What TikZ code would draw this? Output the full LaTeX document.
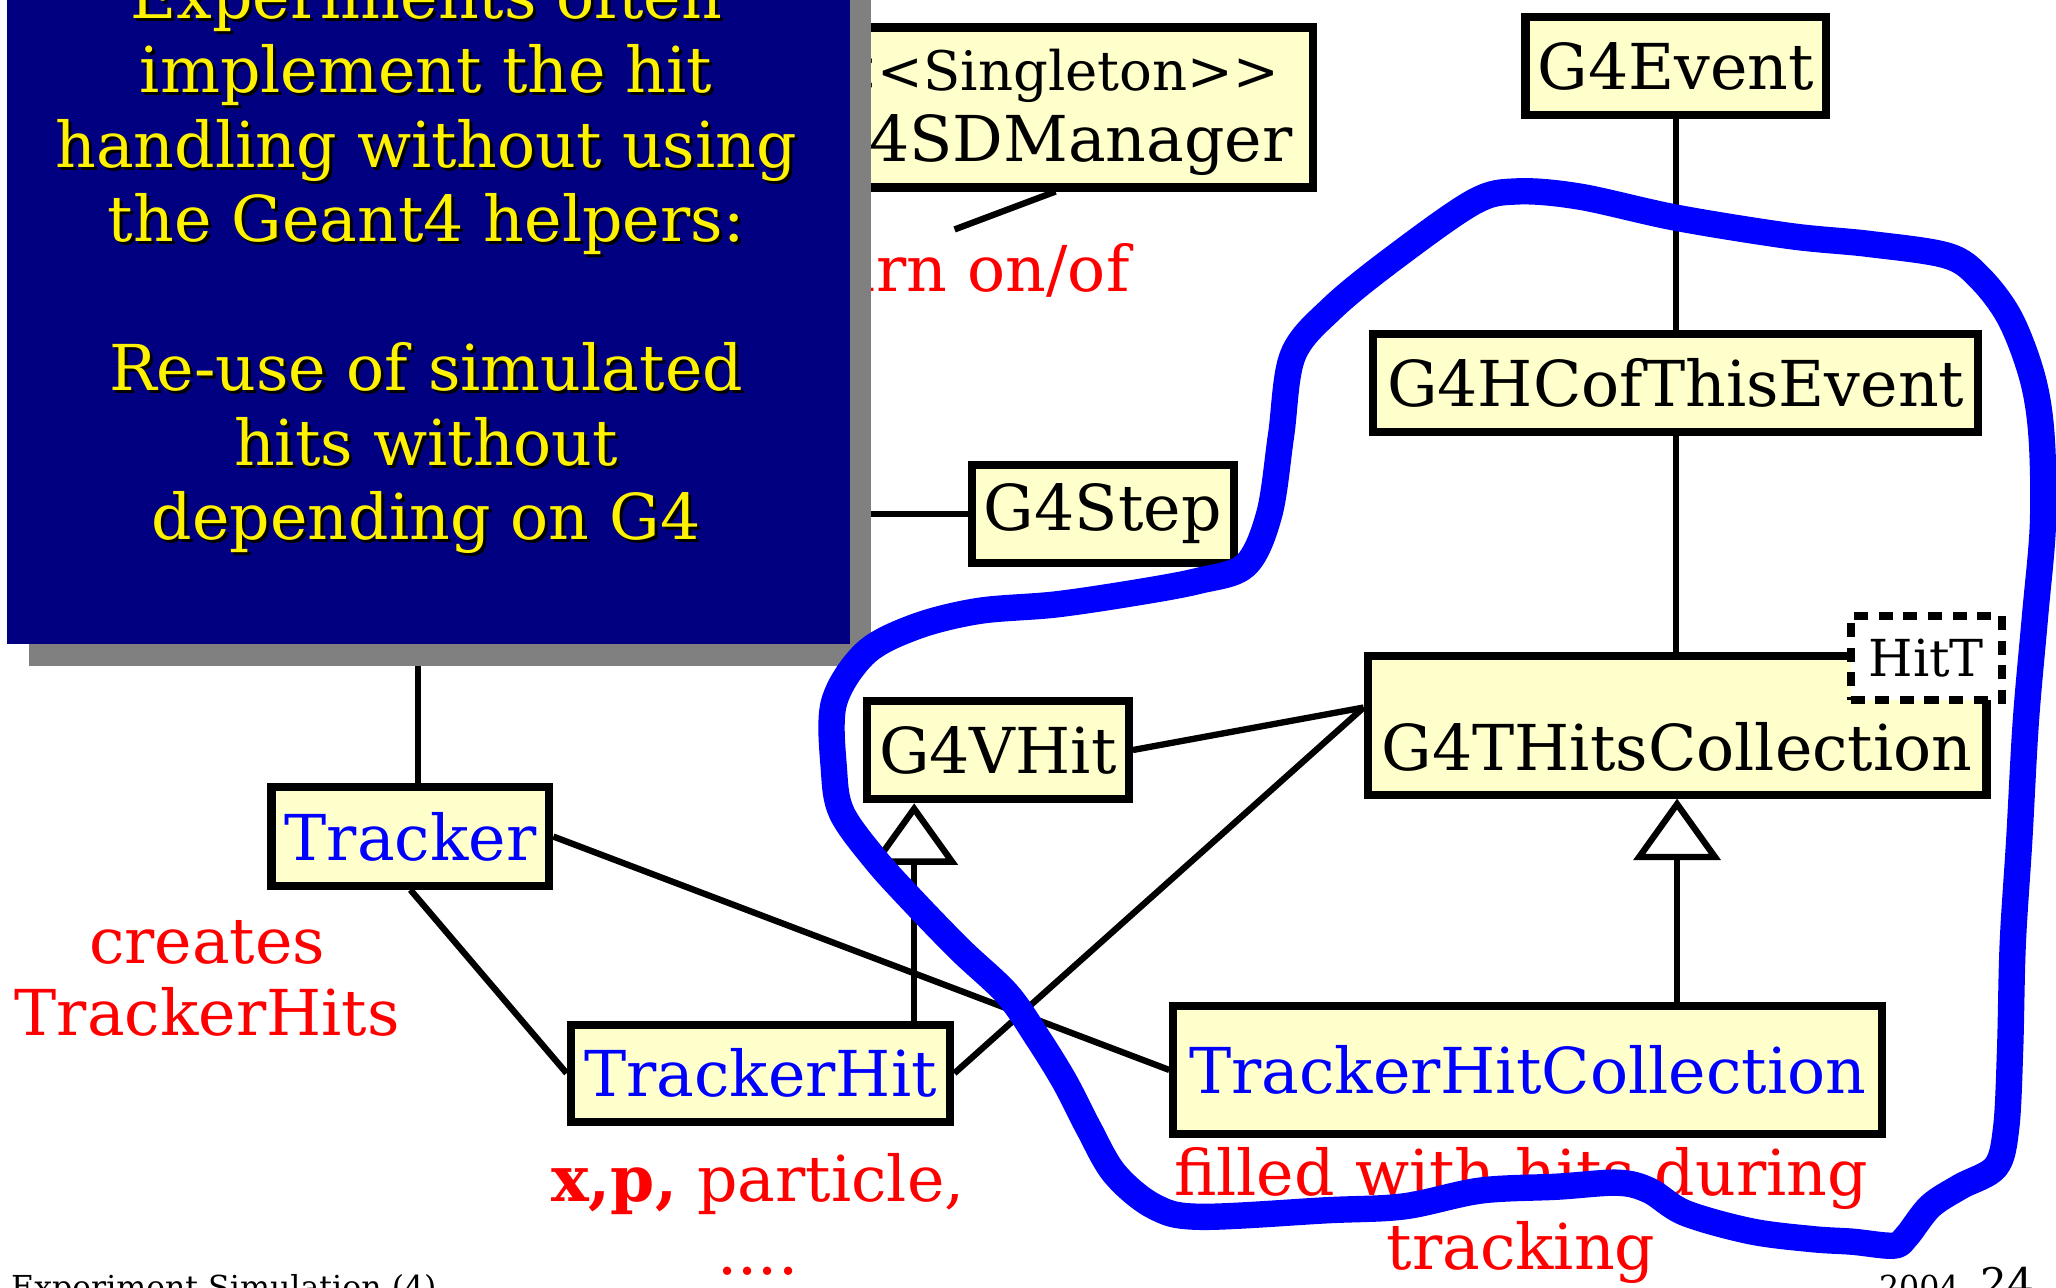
\documentclass[tikz,border=0pt]{standalone}
\usepackage{fontspec}
\setmainfont{DejaVu Serif}
\usetikzlibrary{arrows.meta,calc}
\definecolor{classfill}{HTML}{FFFFCC}
\definecolor{notenavy}{HTML}{000080}
\definecolor{notegray}{HTML}{808080}

\begin{document}
\begin{tikzpicture}[x=0.013112cm, y=-0.013112cm,
            cls/.style={draw, line width=2.3pt, fill=classfill, inner sep=0pt,
                        minimum height=28pt, font=\fontsize{18}{21.3}\selectfont},
            link/.style={draw, line width=1.8pt},
            isa/.style={link, -{Triangle[open, fill=white, length=17.5pt, width=24.6pt]}},
            remark/.style={text=red, anchor=base, inner sep=0pt, font=\fontsize{18}{21.3}\selectfont},
            noteline/.style={text=yellow, anchor=base, inner sep=0pt, font=\fontsize{18}{21.3}\selectfont},
            footer/.style={anchor=base, inner sep=0pt, font=\fontsize{9}{11}\selectfont},
            hitring/.style={draw=blue, line width=7.5pt, line join=round}]

  \useasboundingbox (0,0) rectangle (1568,982);
  \clip (0,0) rectangle (1568,982);
  \fill[white] (0,0) rectangle (1568,982);

  \node[cls, align=center, minimum width=146.5pt, minimum height=45.5pt] (sdm) at (805,82)
       {{\fontsize{15.5}{18}\selectfont \rule{0pt}{14.4pt}<{}<Singleton>{}>}\\[-1.1pt]G4SDManager};
  \node[cls, minimum width=85.5pt] (event) at (1278,50.5) {G4Event};
  \node[cls, minimum width=172pt] (hcof) at (1278,292) {G4HCofThisEvent};
  \node[cls, minimum width=74.5pt] (step) at (841,392) {G4Step};
  \node[cls, minimum width=74.5pt] (vhit) at (761,572) {G4VHit};
  \node[cls, minimum width=176pt, minimum height=39.5pt, text height=30pt, text depth=4pt]
       (thits) at (1279,553) {G4THitsCollection};
  \node[cls, fill=white, dash pattern=on 4pt off 3pt, minimum width=43pt, minimum height=24pt,
        font=\fontsize{14.5}{17}\selectfont] (hitt) at (1469,502) {HitT};
  \node[cls, text=blue, minimum width=79pt] (tracker) at (313,638) {Tracker};
  \node[cls, text=blue, minimum width=108pt, minimum height=27.5pt] (trhit) at (580,818.5) {TrackerHit};
  \node[cls, text=blue, minimum width=201.5pt, minimum height=36.5pt] (trcoll) at (1165,816) {TrackerHitCollection};

  \coordinate (sdmend) at (728,175);
  \coordinate (sdet) at (560,392);
  \coordinate (trup) at (319,450);
  \coordinate (hitsin) at ([yshift=5pt]thits.west);
  \coordinate (vbase) at ($(vhit.south west)!0.19!(vhit.south east)$);

  \draw[link] (event) -- (hcof);
  \draw[link] (hcof.south) -- (hcof.south |- thits.north);
  \draw[link] (sdm.south) -- (sdmend);
  \draw[link] (step.west) -- (sdet);
  \draw[link] (trup) -- (trup |- tracker.north);
  \draw[link] (tracker.east) -- (trcoll.west);
  \draw[link] (tracker.south) -- (trhit.west);
  \draw[link] (trhit.east) -- (hitsin);
  \draw[link] (vhit.east) -- (hitsin);
  \draw[isa] (vbase |- trhit.north) -- (vbase);
  \draw[isa] (thits.south |- trcoll.north) -- (thits.south);

  \node[remark, anchor=base east] (onoff) at (862,222) {Turn on/of};
  \node[remark] (creates) at (158,735) {creates};
  \node[remark] (creates2) at (158,790) {TrackerHits};
  \node[remark] (hitdata) at (578,916) {\textbf{x,p,} particle,};
  \node[remark] (hitdata2) at (578,972) {....};
  \node[remark] (filled) at (1160,912) {filled with hits during};
  \node[remark] (filled2) at (1160,968) {tracking};

  \fill[notegray] (22,-20) rectangle (664,508);
  \fill[notenavy] (5,-20) rectangle (648,491);
  \foreach \i/\txt in {0/Experiments often, 1/implement the hit, 2/handling without using,
                       3/the Geant4 helpers:, 5/Re-use of simulated, 6/hits without,
                       7/depending on G4} {
    \node[noteline, text=black] (shade\i) at (327.3,{16.3+56.8*\i}) {\txt};
    \node[noteline] (note\i) at (325,{14+56.8*\i}) {\txt};
  }

  \node[footer, anchor=base west] (course) at (8,990) {Experiment Simulation (4)};
  \node[footer, anchor=base east] (date) at (1495,990) {2004};
  \node[footer, anchor=base west, font=\fontsize{12}{14}\selectfont] (pageno) at (1510,990) {24};

  \draw[hitring] plot[smooth cycle, tension=0.55] coordinates {
    (1157,146) (1205,150) (1278,166) (1365,180) (1425,186) (1485,195) (1510,212)
    (1533,243) (1550,288) (1557,333) (1558,400) (1552,470) (1545,550) (1540,640)
    (1535,720) (1533,800) (1530,860) (1522,890) (1495,905) (1472,920) (1454,943)
    (1444,950) (1413,947) (1382,945) (1335,939) (1285,925) (1258,908) (1234,902)
    (1188,905) (1129,908) (1071,920) (1012,923) (915,928) (880,920) (850,895)
    (830,860) (812,825) (791,791) (768,758) (733,725) (698,689) (668,656)
    (642,620) (636,587) (636,536) (660,498) (698,478) (746,466) (805,461)
    (866,452) (914,443) (950,431) (968,392) (977,332) (986,271) (1016,235)
    (1064,196) (1124,154)};
\end{tikzpicture}
\end{document}
